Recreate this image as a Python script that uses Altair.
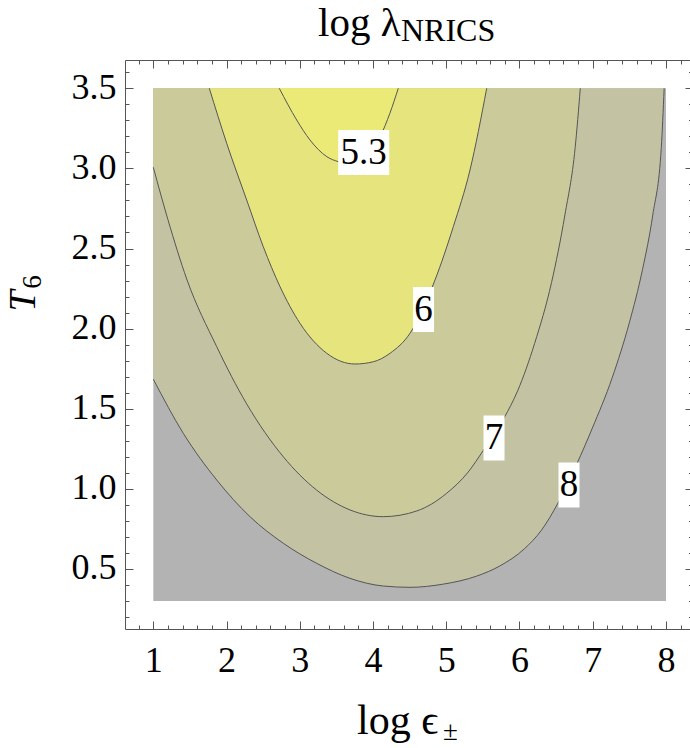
import altair as alt
import pandas as pd

# ---- data (x = log eps, y = T6) ----
X_MIN, X_MAX, Y_MIN, Y_MAX = 1.0, 8.0, 0.3, 3.5

C53_X = [2.72, 2.958, 3.14, 3.37, 3.526, 3.75, 3.95, 4.10, 4.23, 4.345]
C53_Y = [3.5, 3.302, 3.177, 3.073, 3.042, 3.025, 3.09, 3.20, 3.344, 3.5]

C6_X = [1.765, 2.002, 2.275, 2.502, 2.73, 3.003, 3.368, 3.754, 4.004, 4.232, 4.505, 4.846, 5.096, 5.324, 5.552]
C6_Y = [3.5, 3.157, 2.803, 2.511, 2.262, 2.033, 1.846, 1.779, 1.793, 1.846, 1.971, 2.303, 2.636, 2.99, 3.5]

C7_X = [1.0, 1.2, 1.456, 1.866, 2.275, 2.775, 3.23, 3.686, 4.14, 4.6, 5.0, 5.3, 5.506, 5.79, 5.975, 6.206, 6.437, 6.62, 6.76, 6.83]
C7_Y = [3.007, 2.68, 2.31, 1.887, 1.53, 1.2, 0.992, 0.868, 0.826, 0.862, 0.97, 1.105, 1.24, 1.443, 1.612, 1.907, 2.287, 2.71, 3.13, 3.5]

C8_X = [1.0, 1.41, 1.866, 2.32, 2.775, 3.23, 3.686, 4.14, 4.505, 4.96, 5.415, 5.73, 6.068, 6.3, 6.53, 6.78, 6.99, 7.267, 7.498, 7.68, 7.82, 7.936, 7.975]
C8_Y = [1.684, 1.346, 1.055, 0.826, 0.66, 0.535, 0.441, 0.393, 0.385, 0.405, 0.455, 0.518, 0.626, 0.742, 0.915, 1.153, 1.374, 1.695, 2.034, 2.37, 2.71, 3.13, 3.5]

LABEL_TEXT = ["5.3", "6", "7", "8"]
LABEL_X = [3.873, 4.69, 5.652, 6.676]
LABEL_Y = [3.099, 2.119, 1.317, 1.024]

X_MAJOR = [1, 2, 3, 4, 5, 6, 7, 8]
X_MINOR = [round(0.8 + 0.2 * i, 1) for i in range(38) if round((0.8 + 0.2 * i) % 1, 3) not in (0.0, 1.0)]
Y_MAJOR = [0.5, 1.0, 1.5, 2.0, 2.5, 3.0, 3.5]
Y_MINOR = [round(0.2 + 0.1 * i, 1) for i in range(35) if round(((0.2 + 0.1 * i) * 10) % 5, 3) not in (0.0, 5.0)]

# ---- styles ----
FONT = "Liberation Serif"
AXC = "#555555"
COL_GT8 = "#b3b3b3"
COL_78 = "#c3c3a3"
COL_67 = "#cbca9b"
COL_536 = "#e6e57d"
COL_LT53 = "#ebea76"
LINEC = "#555555"

XS = alt.Scale(domain=[0.6136, 8.328], nice=False, zero=False)
YS = alt.Scale(domain=[0.1248, 3.6767], nice=False, zero=False)


def tick_axis(orient, values, size, offset):
    return alt.Axis(orient=orient, values=values, labels=False, domain=False, ticks=True,
                    tickSize=size, tickColor=AXC, tickWidth=1, offset=offset, grid=False,
                    title=None)


ax_x_lab = alt.Axis(orient="bottom", values=X_MAJOR, format="d", ticks=False, tickSize=0,
                    domain=True, domainColor=AXC, domainWidth=1, labelFont=FONT,
                    labelFontSize=36, labelColor="black", labelPadding=42,
                    labelBaseline="alphabetic", labelFlush=False, labelOverlap=False,
                    grid=False, title=None)
ax_y_lab = alt.Axis(orient="left", values=Y_MAJOR, format=".1f", ticks=False, tickSize=0,
                    domain=True, domainColor=AXC, domainWidth=1, labelFont=FONT,
                    labelFontSize=36, labelColor="black", labelPadding=9,
                    labelAlign="right", labelBaseline="middle", labelOffset=-1,
                    labelFlush=False, labelOverlap=False, grid=False, title=None)
ax_top_frame = alt.Axis(orient="top", values=X_MAJOR, ticks=False, tickSize=0, labels=False,
                        domain=True, domainColor=AXC, domainWidth=1, grid=False, title=None)


def curve_df(xs, ys):
    return pd.DataFrame({"x": xs, "y": ys, "top": [Y_MAX] * len(xs)})


bg_df = pd.DataFrame({"x0": [X_MIN], "x1": [X_MAX], "y0": [Y_MIN], "y1": [Y_MAX]})
bg = alt.Chart(bg_df).mark_rect(color=COL_GT8).encode(
    x=alt.X("x0:Q", scale=XS, axis=ax_x_lab),
    x2="x1:Q",
    y=alt.Y("y0:Q", scale=YS, axis=ax_y_lab),
    y2="y1:Q",
)


def area(xs, ys, color, xaxis, yaxis):
    return alt.Chart(curve_df(xs, ys)).mark_area(color=color, interpolate="monotone").encode(
        x=alt.X("x:Q", scale=XS, axis=xaxis),
        y=alt.Y("y:Q", scale=YS, axis=yaxis),
        y2="top:Q",
    )


a8 = area(C8_X, C8_Y, COL_78, tick_axis("bottom", X_MAJOR, 8, -8), tick_axis("left", Y_MAJOR, 8, -8))
a7 = area(C7_X, C7_Y, COL_67, tick_axis("bottom", X_MINOR, 4, -4), tick_axis("left", Y_MINOR, 4, -4))
a6 = area(C6_X, C6_Y, COL_536, tick_axis("top", X_MAJOR, 8, -8), tick_axis("right", Y_MAJOR, 8, -5))
a53 = area(C53_X, C53_Y, COL_LT53, tick_axis("top", X_MINOR, 4, -4), tick_axis("right", Y_MINOR, 4, -1.5))

lines_df = pd.concat([
    curve_df(C53_X, C53_Y).assign(level="5.3"),
    curve_df(C6_X, C6_Y).assign(level="6"),
    curve_df(C7_X, C7_Y).assign(level="7"),
    curve_df(C8_X, C8_Y).assign(level="8"),
])
lines = alt.Chart(lines_df).mark_line(color=LINEC, strokeWidth=1, interpolate="monotone").encode(
    x=alt.X("x:Q", scale=XS, axis=ax_top_frame),
    y=alt.Y("y:Q", scale=YS, axis=None),
    detail="level:N",
    order="x:Q",
)

lab_df = pd.DataFrame({"t": LABEL_TEXT, "x": LABEL_X, "y": LABEL_Y,
                       "wide": [len(s) > 1 for s in LABEL_TEXT]})
box_wide = alt.Chart(lab_df).transform_filter("datum.wide").mark_point(
    shape="M-1,-0.882H1V0.882H-1Z", size=51 * 51, filled=True, fill="white", opacity=1, strokeWidth=0
).encode(x=alt.X("x:Q", scale=XS, axis=None), y=alt.Y("y:Q", scale=YS, axis=None))
box_narrow = alt.Chart(lab_df).transform_filter("!datum.wide").mark_point(
    shape="M-0.467,-1H0.467V1H-0.467Z", size=45 * 45, filled=True, fill="white", opacity=1, strokeWidth=0
).encode(x=alt.X("x:Q", scale=XS, axis=None), y=alt.Y("y:Q", scale=YS, axis=None))
lab_text = alt.Chart(lab_df).mark_text(font=FONT, fontSize=37, color="black", align="center",
                                       baseline="middle").encode(
    x=alt.X("x:Q", scale=XS, axis=None), y=alt.Y("y:Q", scale=YS, axis=None), text="t:N")

one = pd.DataFrame({"a": [0]})


def txt(s, px, py, size, **kw):
    return alt.Chart(one).mark_text(text=s, font=FONT, fontSize=size, color="black", **kw).encode(
        x=alt.value(px), y=alt.value(py))


title1 = txt("log λ", 193, -24, 41, align="left", baseline="alphabetic")
title2 = txt("NRICS", 276, -19, 32, align="left", baseline="alphabetic")
xt1 = txt("log ϵ", 232, 674, 42, align="left", baseline="alphabetic")
xt2 = txt("±", 318, 680, 27, align="left", baseline="alphabetic")
yt1 = txt("T", -90, 241, 38, align="center", baseline="alphabetic", angle=270, fontStyle="italic")
yt2 = txt("6", -84, 222, 27, align="center", baseline="alphabetic", angle=270)

chart = alt.layer(
    bg, a8, a7, a6, a53, lines, box_wide, box_narrow, lab_text,
    title1, title2, xt1, xt2, yt1, yt2,
).resolve_scale(x="shared", y="shared").resolve_axis(x="independent", y="independent").properties(
    width=565, height=569,
    autosize=alt.AutoSizeParams(type="none"),
    padding={"left": 125, "top": 60, "right": 0, "bottom": 119},
    background="white",
).configure_view(stroke=None)

chart.save("out.html", embed_options={"renderer": "svg", "actions": False})
